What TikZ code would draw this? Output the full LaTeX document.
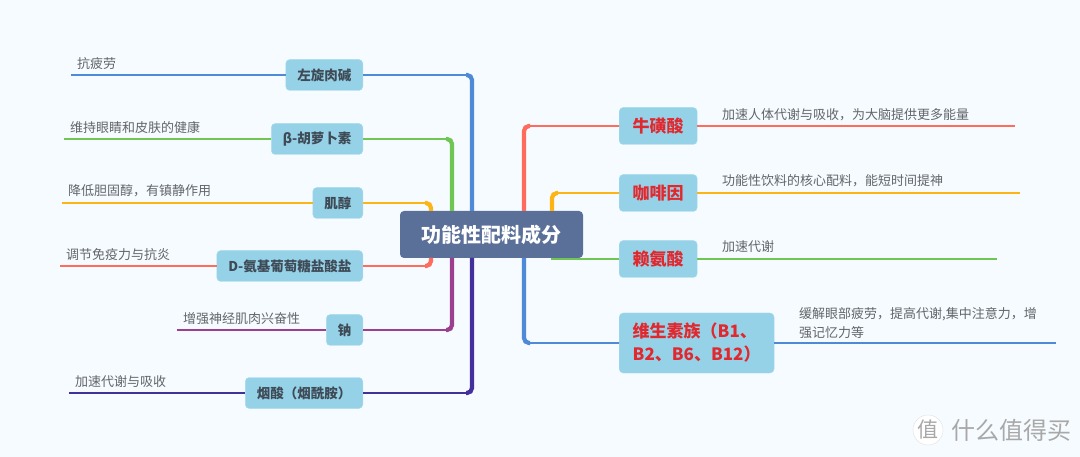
\documentclass[tikz,border=0pt]{standalone}
\usepackage{fontspec}
\setmainfont{Noto Sans CJK SC}
\usetikzlibrary{positioning,calc}

\definecolor{pagebg}{HTML}{F6FBFF}
\definecolor{mainfill}{HTML}{5A7099}
\definecolor{topicfill}{HTML}{95D2E8}
\definecolor{topictext}{HTML}{3E4A55}
\definecolor{leaftext}{HTML}{62666B}
\definecolor{hotred}{HTML}{E1282E}
\definecolor{lblue}{HTML}{4F8AD8}
\definecolor{lgreen}{HTML}{6FC653}
\definecolor{lyellow}{HTML}{FDB515}
\definecolor{lred}{HTML}{FF6B5C}
\definecolor{lpurple}{HTML}{9C3F8E}
\definecolor{lnavy}{HTML}{43309A}

\newcommand{\trunkline}[3]{
    \draw[twig,#3,rounded corners=6pt] (#1) -| (#2);
    \draw[trunk,#3,rounded corners=5pt] ($(#1 -| #2)!6pt!(#1)$) -| (#2);
}

\begin{document}
\begin{tikzpicture}[
        x=1pt, y=-1pt,
        mainnode/.style = {fill=mainfill,text=white,rounded corners=4pt,minimum width=183pt,minimum height=47pt,font=\fontsize{20}{24}\selectfont\bfseries},
        topic/.style = {fill=topicfill,draw=topicfill!80!white,rounded corners=4pt,text=topictext,inner xsep=11.5pt,inner ysep=0pt,minimum height=31pt,font=\fontsize{13.5}{16}\selectfont\bfseries},
        hottopic/.style = {topic,text=hotred,inner xsep=13.5pt,minimum height=37pt,font=\fontsize{17}{23}\selectfont\bfseries},
        leaf/.style = {text=leaftext,inner sep=0pt,anchor=west,font=\fontsize{13}{19}\selectfont},
        twig/.style = {line width=1.8pt},
        trunk/.style = {line width=4.2pt}
    ]
    \useasboundingbox[fill=pagebg] (0,0) rectangle (1080,457);

    \node[mainnode] (main) at (491.5,234.5) {功能性配料成分};

    % left side
    \node[topic,anchor=east] (carnitine) at (363,75) {左旋肉碱};
    \node[topic,anchor=east] (carotene) at (363,139) {β-胡萝卜素};
    \node[topic,anchor=east] (inositol) at (363,203) {肌醇};
    \node[topic,anchor=east] (glucosamine) at (363,266) {D-氨基葡萄糖盐酸盐};
    \node[topic,anchor=east] (sodium) at (363,330) {钠};
    \node[topic,anchor=east] (niacin) at (363,393) {烟酸（烟酰胺）};

    \node[leaf] (carnitineleaf) at (77,64) {抗疲劳};
    \node[leaf] (caroteneleaf) at (70,128) {维持眼睛和皮肤的健康};
    \node[leaf] (inositolleaf) at (68,191) {降低胆固醇，有镇静作用};
    \node[leaf] (glucosamineleaf) at (66,255) {调节免疫力与抗炎};
    \node[leaf] (sodiumleaf) at (183,319) {增强神经肌肉兴奋性};
    \node[leaf] (niacinleaf) at (75,382) {加速代谢与吸收};

    % right side
    \node[hottopic,anchor=west] (taurine) at (619,126) {牛磺酸};
    \node[hottopic,anchor=west] (caffeine) at (619,193) {咖啡因};
    \node[hottopic,anchor=west] (lysine) at (619,259) {赖氨酸};
    \node[hottopic,anchor=west,align=left,minimum height=60pt] (vitamin) at (619,343) {维生素族（B1、\\B2、B6、B12）};

    \node[leaf] (taurineleaf) at (722,115) {加速人体代谢与吸收，为大脑提供更多能量};
    \node[leaf] (caffeineleaf) at (722,181) {功能性饮料的核心配料，能短时间提神};
    \node[leaf] (lysineleaf) at (722,247) {加速代谢};
    \node[leaf,align=left] (vitaminleaf) at (799,323) {缓解眼部疲劳，提高代谢,集中注意力，增\\强记忆力等};

    % trunks
    \coordinate (tblue) at (472,211);
    \coordinate (tgreen) at (452,211);
    \coordinate (tyellow) at (431,211);
    \coordinate (tred) at (431,258);
    \coordinate (tpurple) at (452,258);
    \coordinate (tnavy) at (472,258);
    \coordinate (rred) at (524,211);
    \coordinate (ryellow) at (552,211);
    \coordinate (rgreen) at (551,259);
    \coordinate (rblue) at (524,258);

    \trunkline{carnitine.east}{tblue}{lblue}
    \trunkline{carotene.east}{tgreen}{lgreen}
    \trunkline{inositol.east}{tyellow}{lyellow}
    \trunkline{glucosamine.east}{tred}{lred}
    \trunkline{sodium.east}{tpurple}{lpurple}
    \trunkline{niacin.east}{tnavy}{lnavy}
    \trunkline{taurine.west}{rred}{lred}
    \trunkline{caffeine.west}{ryellow}{lyellow}
    \trunkline{vitamin.west}{rblue}{lblue}
    \draw[twig,lgreen] (lysine.west) -- (rgreen);

    % leaf lines
    \coordinate (carnitineend) at (71,75);
    \coordinate (caroteneend) at (64,139);
    \coordinate (inositolend) at (62,203);
    \coordinate (glucosamineend) at (60,266);
    \coordinate (sodiumend) at (177,330);
    \coordinate (niacinend) at (69,393);
    \coordinate (taurineend) at (1015,126);
    \coordinate (caffeineend) at (1020,193);
    \coordinate (lysineend) at (997,259);
    \coordinate (vitaminend) at (1056,343);

    \draw[twig,lblue] (carnitine) -- (carnitineend);
    \draw[twig,lgreen] (carotene) -- (caroteneend);
    \draw[twig,lyellow] (inositol) -- (inositolend);
    \draw[twig,lred] (glucosamine) -- (glucosamineend);
    \draw[twig,lpurple] (sodium) -- (sodiumend);
    \draw[twig,lnavy] (niacin) -- (niacinend);
    \draw[twig,lred] (taurine) -- (taurineend);
    \draw[twig,lyellow] (caffeine) -- (caffeineend);
    \draw[twig,lgreen] (lysine) -- (lysineend);
    \draw[twig,lblue] (vitamin) -- (vitaminend);

    % watermark
    \node[circle,fill=white,draw=black!12,text=black!34,inner sep=0pt,minimum size=30pt,font=\fontsize{21}{21}\selectfont] (markseal) at (928,430) {值};
    \node[text=black!34,inner sep=0pt,right=8pt of markseal,font=\fontsize{24}{24}\selectfont] (markname) {什么值得买};
\end{tikzpicture}
\end{document}
